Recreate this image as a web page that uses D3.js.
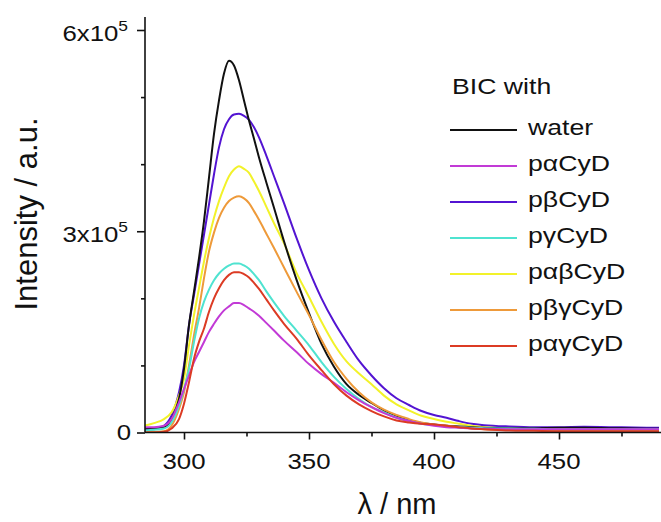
<!DOCTYPE html>
<html>
<head>
<meta charset="utf-8">
<script src="https://cdn.jsdelivr.net/npm/d3@7"></script>
<style>
  html, body { margin: 0; padding: 0; background: #fff; }
  svg { display: block; font-family: "Liberation Sans", Arial, sans-serif; }
</style>
</head>
<body>
<svg id="chart" width="661" height="522"></svg>
<script>
// Emission wavelengths (nm) shared by every spectrum
const wavelengths = [284,288,292,295,298,300,302,304,306,308,310,312,314,316,318,320,322,324,326,328,330,333,336,340,345,350,355,360,365,370,375,380,385,390,395,400,405,410,415,420,430,440,450,460,470,480,490];

// Fluorescence intensity, in units of 1e5 a.u.
const water = [0.06,0.06,0.08,0.2,0.5,0.95,1.6,2.1,2.6,3.15,3.8,4.45,4.95,5.35,5.54,5.47,5.25,4.95,4.65,4.38,4.1,3.72,3.35,2.85,2.28,1.78,1.32,0.98,0.72,0.56,0.44,0.33,0.25,0.18,0.14,0.12,0.10,0.09,0.08,0.07,0.065,0.065,0.07,0.07,0.065,0.06,0.055];
const paCyD = [0.08,0.08,0.1,0.2,0.45,0.65,0.85,1.05,1.2,1.35,1.5,1.62,1.73,1.82,1.88,1.93,1.93,1.9,1.85,1.8,1.74,1.63,1.52,1.37,1.2,1.02,0.87,0.74,0.6,0.48,0.38,0.29,0.22,0.17,0.13,0.1,0.08,0.07,0.06,0.055,0.05,0.05,0.05,0.05,0.05,0.05,0.05];
const pbCyD = [0.04,0.05,0.1,0.25,0.6,1.0,1.6,2.05,2.5,2.95,3.4,3.85,4.25,4.52,4.67,4.74,4.75,4.72,4.66,4.55,4.4,4.12,3.82,3.42,2.9,2.42,2.0,1.65,1.35,1.07,0.85,0.66,0.51,0.41,0.32,0.26,0.22,0.17,0.13,0.11,0.09,0.08,0.08,0.085,0.08,0.075,0.07];
const pgCyD = [0.03,0.04,0.06,0.15,0.4,0.65,0.95,1.35,1.7,1.95,2.13,2.27,2.37,2.44,2.49,2.52,2.52,2.49,2.44,2.36,2.27,2.1,1.94,1.74,1.52,1.3,1.05,0.83,0.65,0.5,0.38,0.3,0.22,0.17,0.13,0.11,0.09,0.08,0.07,0.065,0.06,0.055,0.05,0.05,0.05,0.05,0.05];
const pabCyD = [0.1,0.14,0.2,0.3,0.55,0.8,1.3,1.75,2.15,2.55,2.9,3.2,3.45,3.65,3.82,3.92,3.97,3.93,3.87,3.74,3.6,3.36,3.12,2.82,2.38,2.02,1.65,1.32,1.06,0.88,0.72,0.55,0.42,0.33,0.25,0.2,0.16,0.13,0.1,0.08,0.06,0.05,0.05,0.05,0.05,0.045,0.04];
const pbgCyD = [0.01,0.01,0.02,0.1,0.35,0.6,1.0,1.45,1.85,2.3,2.7,2.98,3.2,3.35,3.45,3.5,3.52,3.49,3.42,3.3,3.17,2.96,2.75,2.46,2.1,1.75,1.38,1.05,0.8,0.6,0.45,0.34,0.26,0.2,0.15,0.12,0.1,0.08,0.06,0.05,0.04,0.035,0.03,0.03,0.03,0.03,0.03];
const pagCyD = [0.0,0.0,0.01,0.06,0.2,0.43,0.75,1.1,1.35,1.55,1.8,2.0,2.15,2.27,2.35,2.39,2.39,2.36,2.31,2.23,2.14,1.98,1.82,1.62,1.4,1.15,0.93,0.72,0.55,0.42,0.32,0.24,0.18,0.15,0.13,0.12,0.1,0.08,0.06,0.05,0.03,0.025,0.02,0.02,0.02,0.02,0.02];

const seriesNames = ["water","p\u03b1CyD","p\u03b2CyD","p\u03b3CyD","p\u03b1\u03b2CyD","p\u03b2\u03b3CyD","p\u03b1\u03b3CyD"];
const seriesValues = [water, paCyD, pbCyD, pgCyD, pabCyD, pbgCyD, pagCyD];
const seriesColors = ["#111111","#c23ad6","#5314d2","#4fe3d0","#f2f22a","#ee9a3a","#dc3b24"];

const xTicks = [300, 350, 400, 450];
const xMinorTicks = [325, 375, 425, 475];
const yTicks = [0, 3, 6];          // labelled, in 1e5
const yMinorTicks = [1, 2, 4, 5];
const legendTitle = "BIC with";

const svg = d3.select("#chart");
const plotL = 145, plotB = 432.5, plotT = 17, plotR = 661;
const tickFont = 21.5, tickStretch = 1.2;     // tick labels are set slightly wide
const legendFont = 21.5, legendStretch = 1.24;

const x = d3.scaleLinear().domain([284.4, 490.8]).range([plotL, plotR]);
const y = d3.scaleLinear().domain([0, 6]).range([plotB, 30]);

// Clip the spectra to the plotting area
svg.append("clipPath").attr("id", "plotArea")
  .append("rect").attr("x", plotL).attr("y", 0).attr("width", plotR - plotL).attr("height", plotB);

const line = d3.line()
  .x((d, i) => x(wavelengths[i]))
  .y(d => y(d))
  .curve(d3.curveMonotoneX);

const plot = svg.append("g").attr("clip-path", "url(#plotArea)");
// draw in an order that keeps the lower curves on top near the baseline
const order = [2, 4, 0, 5, 3, 1, 6];
order.forEach(k => {
  plot.append("path")
    .datum(seriesValues[k])
    .attr("d", line)
    .attr("fill", "none")
    .attr("stroke", seriesColors[k])
    .attr("stroke-width", 2)
    .attr("stroke-linejoin", "round");
});

// X axis (ticks only; labels are placed below)
const xAxis = svg.append("g").attr("transform", `translate(0,${plotB})`);
xAxis.call(d3.axisBottom(x).tickValues(xTicks).tickSize(7).tickFormat(""));
xAxis.append("g").call(d3.axisBottom(x).tickValues(xMinorTicks).tickSize(4).tickFormat(""))
  .select(".domain").remove();
xAxis.selectAll(".domain").attr("d", `M${plotL},0H${plotR}`);

xTicks.forEach(v => {
  svg.append("text")
    .attr("transform", `translate(${x(v)},${plotB + 36}) scale(${tickStretch},1)`)
    .attr("text-anchor", "middle")
    .attr("font-size", tickFont)
    .attr("fill", "#111")
    .text(d3.format("d")(v));
});

// Y axis
const yAxis = svg.append("g").attr("transform", `translate(${plotL},0)`);
yAxis.call(d3.axisLeft(y).tickValues(yTicks).tickSize(8).tickFormat(""));
yAxis.append("g").call(d3.axisLeft(y).tickValues(yMinorTicks).tickSize(4).tickFormat(""))
  .select(".domain").remove();
yAxis.selectAll(".domain").attr("d", `M0,${plotT}V${plotB}`);

svg.selectAll(".domain, .tick line").attr("stroke", "#111").attr("stroke-width", 1.6);

// Y tick labels with superscript exponent
yTicks.forEach(v => {
  const t = svg.append("text")
    .attr("transform", `translate(${v === 0 ? 131 : 128},${y(v) + (v === 0 ? 7.7 : 10.5)}) scale(${tickStretch},1)`)
    .attr("text-anchor", "end")
    .attr("font-size", tickFont)
    .attr("fill", "#111");
  if (v === 0) {
    t.text("0");
  } else {
    t.append("tspan").text(`${v}x10`);
    t.append("tspan").attr("font-size", 14.5).attr("dy", -9.5).text("5");
  }
});

// Axis titles
svg.append("text")
  .attr("x", 397).attr("y", 514)
  .attr("text-anchor", "middle")
  .attr("font-size", 29).attr("fill", "#111")
  .text("\u03bb / nm");

svg.append("text")
  .attr("transform", "translate(37,214) rotate(-90)")
  .attr("text-anchor", "middle")
  .attr("font-size", 31).attr("fill", "#111")
  .text("Intensity / a.u.");

// Legend
const legend = svg.append("g");
legend.append("text")
  .attr("transform", `translate(452,94) scale(${legendStretch},1)`)
  .attr("font-size", legendFont).attr("fill", "#111")
  .text(legendTitle);
seriesNames.forEach((name, i) => {
  const ly = 130 + i * 36;
  legend.append("line")
    .attr("x1", 450).attr("x2", 517).attr("y1", ly).attr("y2", ly)
    .attr("stroke", seriesColors[i]).attr("stroke-width", 2);
  legend.append("text")
    .attr("transform", `translate(528,${ly + 4.5}) scale(${legendStretch},1)`)
    .attr("font-size", legendFont).attr("fill", "#111")
    .text(name);
});
</script>
</body>
</html>
